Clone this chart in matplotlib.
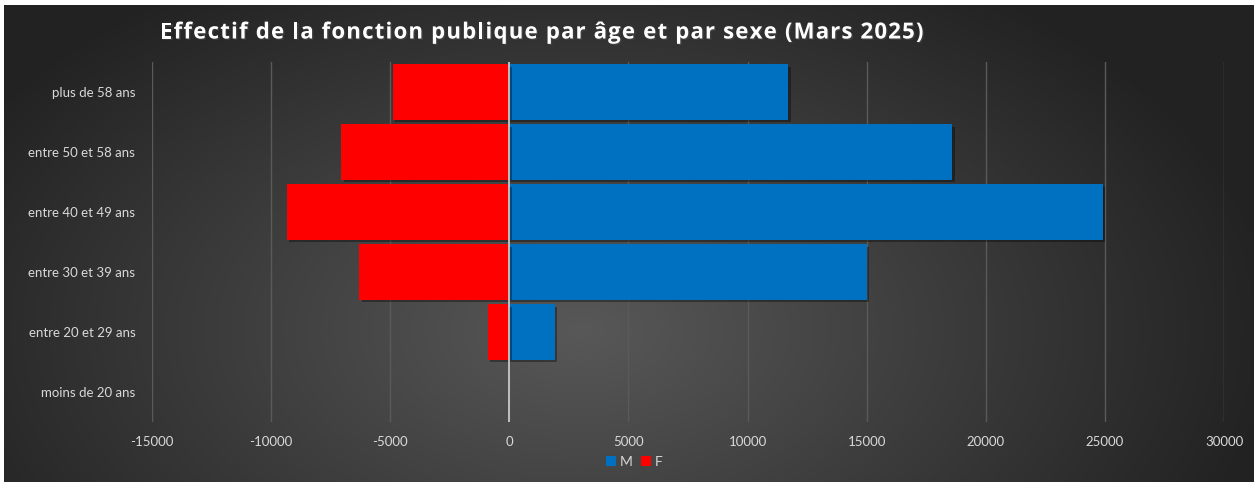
import numpy as np
import matplotlib
matplotlib.use("Agg")
import matplotlib.pyplot as plt
import matplotlib.patheffects as pe

# data
categories = ["moins de 20 ans", "entre 20 et 29 ans", "entre 30 et 39 ans",
              "entre 40 et 49 ans", "entre 50 et 58 ans", "plus de 58 ans"]
hommes = [0, 1900, 15000, 24900, 18580, 11710]
femmes = [0, 910, 6290, 9350, 7060, 4900]
xticks = [-15000, -10000, -5000, 0, 5000, 10000, 15000, 20000, 25000, 30000]
title = "Effectif de la fonction publique par âge et par sexe (Mars 2025)"

BLUE = "#0070C0"
RED = "#FF0000"
TXT = "#d9d9d9"

W, H = 1254, 482
fig = plt.figure(figsize=(W / 100, H / 100), dpi=100)

# -------------------------------
# background : radial gradient, white strip top/left
# -------------------------------
yy, xx = np.mgrid[0:H, 0:W]
d = np.sqrt(((xx - 580) / 700.0) ** 2 + ((yy - 330) / 420.0) ** 2)
lvl = np.clip(0x58 - (0x58 - 0x22) * d, 0x22, 0x58) / 255.0
img = np.dstack([lvl, lvl, lvl])
img[:5, :, :] = 1.0
img[:, :4, :] = 1.0
bg = fig.add_axes([0, 0, 1, 1], zorder=-1)
bg.imshow(img, aspect="auto", interpolation="bilinear")
bg.axis("off")

ax = fig.add_axes([152 / W, 60 / H, 1072 / W, 360 / H])
ax.set_facecolor("none")

y = np.arange(len(categories))
shadow = [pe.SimplePatchShadow(offset=(2, -2), shadow_rgbFace="black", alpha=0.35), pe.Normal()]
ax.barh(y, hommes, height=0.92, color=BLUE, label="M", zorder=3, path_effects=shadow)
ax.barh(y, [-v for v in femmes], height=0.92, color=RED, label="F", zorder=3, path_effects=shadow)

ax.set_xlim(-15000, 30000)
ax.set_ylim(-0.5, len(categories) - 0.5)
ax.set_xticks(xticks)
ax.set_xticklabels([str(v) for v in xticks])
ax.set_yticks(y)
ax.set_yticklabels(categories)

ax.grid(axis="x", color="#5a5a5a", lw=1, zorder=0)
ax.axvline(0, color="#c8c8c8", lw=1.3, zorder=4)
for s in ax.spines.values():
    s.set_visible(False)
ax.tick_params(axis="both", length=0, colors=TXT, labelsize=9.5)
ax.tick_params(axis="x", pad=10)
ax.tick_params(axis="y", pad=12)
for lab in ax.get_xticklabels() + ax.get_yticklabels():
    lab.set_fontfamily("Lato")

leg = ax.legend(loc="upper center", bbox_to_anchor=(0.45, -0.06), ncol=2, frameon=False,
                handlelength=0.7, handleheight=0.7, handletextpad=0.3, columnspacing=0.6,
                prop={"family": "Lato", "size": 10})
for t in leg.get_texts():
    t.set_color(TXT)
for h in leg.legend_handles:
    h.set_path_effects([])

# title with letter spacing (drawn char by char)
renderer = fig.canvas.get_renderer()
x_px = 160
spacing = 1.15  # extra px per char
for ch in title:
    t = fig.text(x_px / W, 1 - 33 / H, ch, color="white", fontsize=16, fontweight="bold",
                 family="Open Sans", va="center", ha="left",
                 path_effects=[pe.withSimplePatchShadow(offset=(1, -1), alpha=0.5)])
    if ch == " ":
        w = fig.text(0, 0, "a a", fontsize=16, fontweight="bold", family="Open Sans")
        w2 = fig.text(0, 0, "aa", fontsize=16, fontweight="bold", family="Open Sans")
        cw = w.get_window_extent(renderer).width - w2.get_window_extent(renderer).width
        w.remove()
        w2.remove()
    else:
        cw = t.get_window_extent(renderer).width
    x_px += cw + spacing

fig.savefig("out.png", dpi=100)
